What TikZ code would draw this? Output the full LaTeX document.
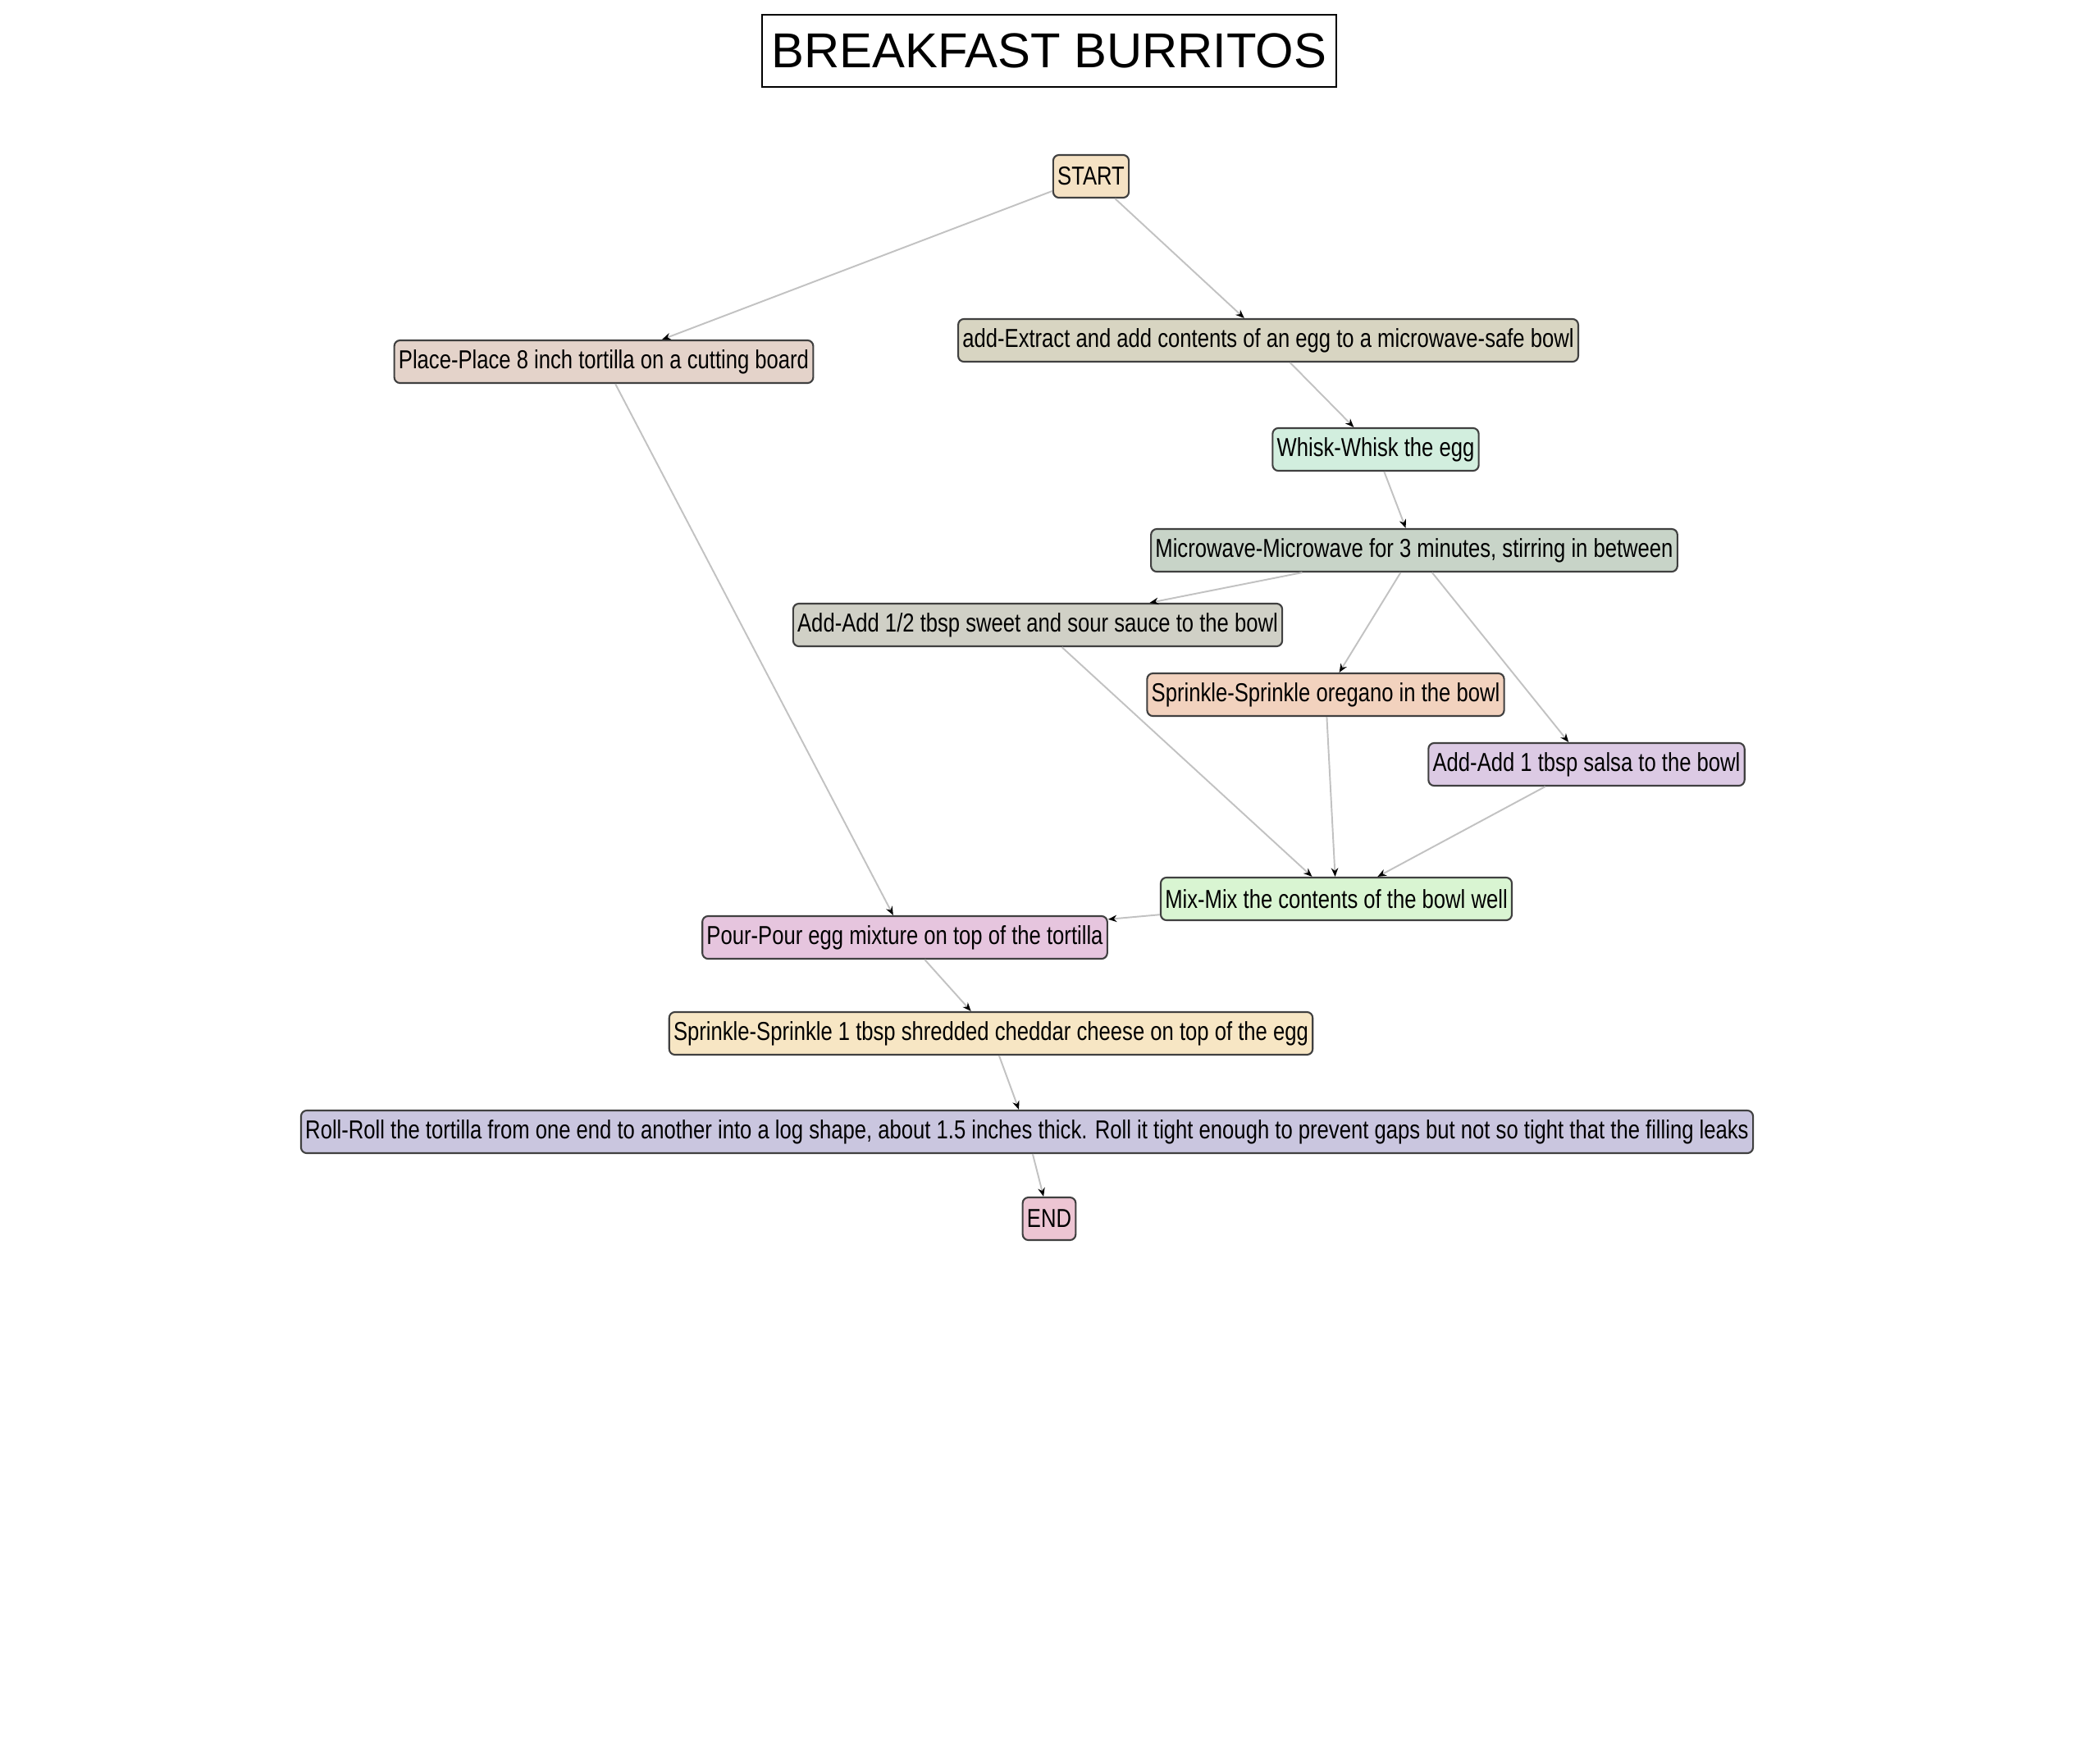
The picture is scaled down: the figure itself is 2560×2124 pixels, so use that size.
\documentclass[tikz,border=0pt]{standalone}
\usepackage{fontspec}
\setmainfont{Liberation Sans}
\newfontfamily\narrowfont[FakeStretch=0.81]{Liberation Sans}
\usepackage{xcolor}
\usetikzlibrary{arrows.meta}
\definecolor{startfill}{RGB}{245,226,196}
\definecolor{placefill}{RGB}{228,211,202}
\definecolor{extractfill}{RGB}{216,213,194}
\definecolor{whiskfill}{RGB}{210,238,222}
\definecolor{microfill}{RGB}{200,212,200}
\definecolor{saucefill}{RGB}{208,208,198}
\definecolor{oreganofill}{RGB}{242,210,190}
\definecolor{salsafill}{RGB}{220,202,228}
\definecolor{mixfill}{RGB}{217,245,210}
\definecolor{pourfill}{RGB}{230,197,222}
\definecolor{cheesefill}{RGB}{247,230,196}
\definecolor{rollfill}{RGB}{202,198,223}
\definecolor{endfill}{RGB}{237,197,211}
\tikzset{
    stepbox/.style={draw=black!75, line width=0.6pt, rounded corners=2pt, fill=#1, font=\narrowfont\fontsize{9}{10}\selectfont, minimum height=0.52cm, inner xsep=1.5pt, inner ysep=0pt}, % every recipe step
    flow/.style={draw=black!24, line width=0.55pt, -{Stealth[black,length=3pt,width=2.4pt]}}, % light edges, dark heads
    titlebox/.style={draw=black, line width=0.6pt, font=\fontsize{17}{20}\selectfont, minimum height=0.88cm, inner xsep=0.12cm},
}

\begin{document}
\begin{tikzpicture}[x=0.01cm, y=-0.01cm]
    \useasboundingbox (0,0) rectangle (2560,2124);
    \node[titlebox] (title) at (1279,62) {BREAKFAST BURRITOS};

    % steps
    \node[stepbox=startfill] (start) at (1330,215) {START};
    \node[stepbox=placefill] (place) at (736,441) {Place-Place 8 inch tortilla on a cutting board};
    \node[stepbox=extractfill] (extract) at (1546,415) {add-Extract and add contents of an egg to a microwave-safe bowl};
    \node[stepbox=whiskfill] (whisk) at (1677,548) {Whisk-Whisk the egg};
    \node[stepbox=microfill] (microwave) at (1724,671) {Microwave-Microwave for 3 minutes, stirring in between};
    \node[stepbox=saucefill] (sauce) at (1265,762) {Add-Add 1/2 tbsp sweet and sour sauce to the bowl};
    \node[stepbox=oreganofill] (oregano) at (1616,847) {Sprinkle-Sprinkle oregano in the bowl};
    \node[stepbox=salsafill] (salsa) at (1934,932) {Add-Add 1 tbsp salsa to the bowl};
    \node[stepbox=mixfill] (mix) at (1629,1096) {Mix-Mix the contents of the bowl well};
    \node[stepbox=pourfill] (pour) at (1103,1143) {Pour-Pour egg mixture on top of the tortilla};
    \node[stepbox=cheesefill] (cheese) at (1208,1260) {Sprinkle-Sprinkle 1 tbsp shredded cheddar cheese on top of the egg};
    \node[stepbox=rollfill] (roll) at (1252,1380) {Roll-Roll the tortilla from one end to another into a log shape, about 1.5 inches thick. Roll it tight enough to prevent gaps but not so tight that the filling leaks};
    \node[stepbox=endfill] (end) at (1279,1486) {END};

    % edges
    \draw[flow] (start) -- (place);
    \draw[flow] (start) -- (extract);
    \draw[flow] (extract) -- (whisk);
    \draw[flow] (whisk) -- (microwave);
    \draw[flow] (microwave) -- (sauce);
    \draw[flow] (microwave) -- (oregano);
    \draw[flow] (microwave) -- (salsa);
    \draw[flow] (sauce) -- (mix);
    \draw[flow] (oregano) -- (mix);
    \draw[flow] (salsa) -- (mix);
    \draw[flow] (place) -- (pour);
    \draw[flow] (mix) -- (pour);
    \draw[flow] (pour) -- (cheese);
    \draw[flow] (cheese) -- (roll);
    \draw[flow] (roll) -- (end);
\end{tikzpicture}
\end{document}
